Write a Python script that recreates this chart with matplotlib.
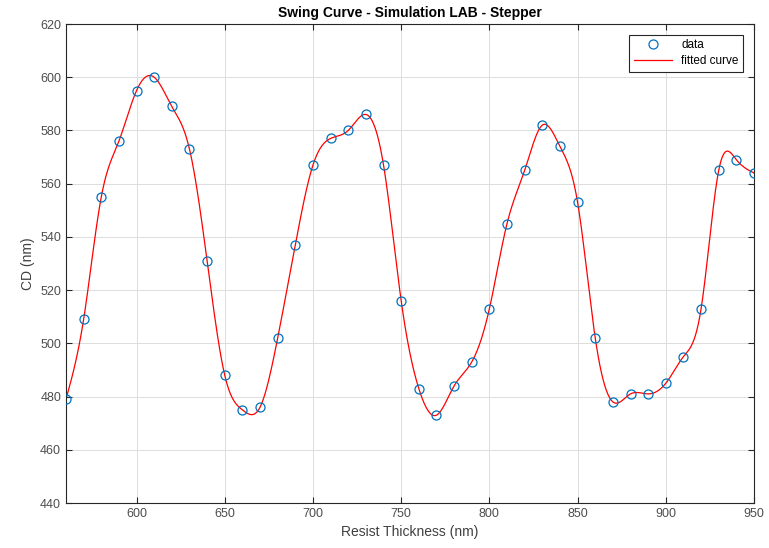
import numpy as np
import matplotlib
matplotlib.use('Agg')
import matplotlib.pyplot as plt

# resist thickness (nm) and measured CD (nm)
thickness = [560, 570, 580, 590, 600, 610, 620, 630, 640, 650,
             660, 670, 680, 690, 700, 710, 720, 730, 740, 750,
             760, 770, 780, 790, 800, 810, 820, 830, 840, 850,
             860, 870, 880, 890, 900, 910, 920, 930, 940, 950]
cd = [479, 509, 555, 576, 595, 600, 589, 573, 531, 488,
      475, 476, 502, 537, 567, 577, 580, 586, 567, 516,
      483, 473, 484, 493, 513, 545, 565, 582, 574, 553,
      502, 478, 481, 481, 485, 495, 513, 565, 569, 564]


def cubic_spline(x, y, xs):
    # natural cubic spline through the data
    x = np.asarray(x, float)
    y = np.asarray(y, float)
    n = len(x)
    h = np.diff(x)
    A = np.zeros((n, n))
    b = np.zeros(n)
    A[0, 0] = 1
    A[-1, -1] = 1
    for i in range(1, n - 1):
        A[i, i - 1] = h[i - 1]
        A[i, i] = 2 * (h[i - 1] + h[i])
        A[i, i + 1] = h[i]
        b[i] = 6 * ((y[i + 1] - y[i]) / h[i] - (y[i] - y[i - 1]) / h[i - 1])
    m = np.linalg.solve(A, b)
    idx = np.clip(np.searchsorted(x, xs) - 1, 0, n - 2)
    x0, x1 = x[idx], x[idx + 1]
    hh = x1 - x0
    t0 = x1 - xs
    t1 = xs - x0
    return (m[idx] * t0**3 / (6 * hh) + m[idx + 1] * t1**3 / (6 * hh)
            + (y[idx] / hh - m[idx] * hh / 6) * t0
            + (y[idx + 1] / hh - m[idx + 1] * hh / 6) * t1)


plt.rcParams['font.family'] = ['Liberation Sans', 'DejaVu Sans']

fig = plt.figure(figsize=(7.69, 5.48), dpi=100)
ax = fig.add_axes([0.0858, 0.0821, 0.8947, 0.8741])

xs = np.linspace(thickness[0], thickness[-1], 2000)
ax.plot(thickness, cd, 'o', mfc='none', mec='#0072BD', ms=6.5, mew=0.9,
        label='data', zorder=3)
ax.plot(xs, cubic_spline(thickness, cd, xs), color='red', lw=0.9,
        label='fitted curve', zorder=2)

ax.set_xlim(560, 950)
ax.set_ylim(440, 620)
ax.set_xticks(range(600, 951, 50))
ax.set_yticks(range(440, 621, 20))
ax.grid(True, color='#dcdcdc', lw=0.7)
ax.set_axisbelow(True)
ax.tick_params(direction='in', top=True, right=True, labelsize=9,
               colors='#262626', labelcolor='#4d4d4d', length=4)
for s in ax.spines.values():
    s.set_color('#262626')
    s.set_linewidth(0.8)

ax.set_xlabel('Resist Thickness (nm)', fontsize=10, color='#404040')
ax.set_ylabel('CD (nm)', fontsize=10, color='#404040')
ax.set_title('Swing Curve - Simulation LAB - Stepper', fontsize=10,
             fontweight='bold', pad=5)

leg = ax.legend(loc='upper right', fontsize=8.5, fancybox=False,
                edgecolor='#262626', framealpha=1, borderaxespad=0.9,
                handlelength=3.2, labelspacing=0.3)
leg.get_frame().set_linewidth(0.8)

fig.savefig('out.png', dpi=100)
